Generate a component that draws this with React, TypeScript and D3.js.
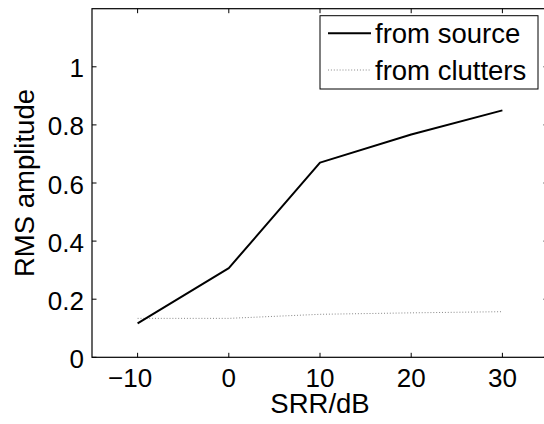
import React from "react";
import * as d3 from "d3";

const srr = [-10, 0, 10, 20, 30];
const fromSource = [0.117, 0.307, 0.670, 0.767, 0.850];
const fromClutters = [0.134, 0.134, 0.148, 0.153, 0.157];
const xTicks = [-10, 0, 10, 20, 30];
const yTicks = [0, 0.2, 0.4, 0.6, 0.8, 1];
const seriesNames = ["from source", "from clutters"];

export default function App() {
  const W = 544, H = 424;
  const left = 92, right = 548, top = 8.7, bottom = 357.3;
  const x = d3.scaleLinear().domain([-15, 35]).range([left, right]);
  const y = d3.scaleLinear().domain([0, 1.2]).range([bottom, top]);
  const line = d3.line<number>().x((_, i) => x(srr[i])).y((d) => y(d));
  const tl = 4.5;
  const font = "'Liberation Sans', Arial, sans-serif";
  const tickFs = 26;
  return (
    <svg width={W} height={H} style={{ position: "absolute", left: 0, top: 0, background: "#fff" }} fontFamily={font}>
      <rect x={0} y={0} width={W} height={H} fill="#fff" />
      <path d={line(fromClutters) || ""} fill="none" stroke="#888" strokeWidth={1} strokeDasharray="1 1.9" />
      <path d={line(fromSource) || ""} fill="none" stroke="#000" strokeWidth={2} strokeLinejoin="round" />
      {/* axes box */}
      <rect x={left} y={top} width={right - left} height={bottom - top} fill="none" stroke="#000" strokeWidth={1.2} />
      {xTicks.map((t) => (
        <g key={"x" + t}>
          <line x1={x(t)} x2={x(t)} y1={bottom} y2={bottom - tl} stroke="#000" strokeWidth={1} />
          <line x1={x(t)} x2={x(t)} y1={top} y2={top + tl} stroke="#000" strokeWidth={1} />
          {t < 0 ? (
            <text x={x(t) + 14.5} y={bottom + 29.5} textAnchor="end" fontSize={tickFs}>{"\u2212" + Math.abs(t)}</text>
          ) : (
            <text x={x(t)} y={bottom + 29.5} textAnchor="middle" fontSize={tickFs}>{String(t)}</text>
          )}
        </g>
      ))}
      {yTicks.map((t) => (
        <g key={"y" + t}>
          <line x1={left} x2={left + tl} y1={y(t)} y2={y(t)} stroke="#000" strokeWidth={1} />
          <line x1={right} x2={right - tl} y1={y(t)} y2={y(t)} stroke="#000" strokeWidth={1} />
          <text x={left - 8} y={y(t) + 10.5} textAnchor="end" fontSize={tickFs}>{String(t)}</text>
        </g>
      ))}
      <text x={(left + right) / 2} y={413} textAnchor="middle" fontSize={27.5}>SRR/dB</text>
      <text transform={`translate(34,${(top + bottom) / 2}) rotate(-90)`} textAnchor="middle" fontSize={27.5}>RMS amplitude</text>
      {/* legend */}
      <rect x={320} y={15.7} width={218} height={73.3} fill="#fff" stroke="#000" strokeWidth={1} />
      <line x1={328} x2={371} y1={33.3} y2={33.3} stroke="#000" strokeWidth={2} />
      <line x1={328} x2={371} y1={70} y2={70} stroke="#888" strokeWidth={1} strokeDasharray="1 1.9" />
      <text x={375} y={43} fontSize={27.5}>{seriesNames[0]}</text>
      <text x={375} y={80} fontSize={27.5}>{seriesNames[1]}</text>
    </svg>
  );
}
